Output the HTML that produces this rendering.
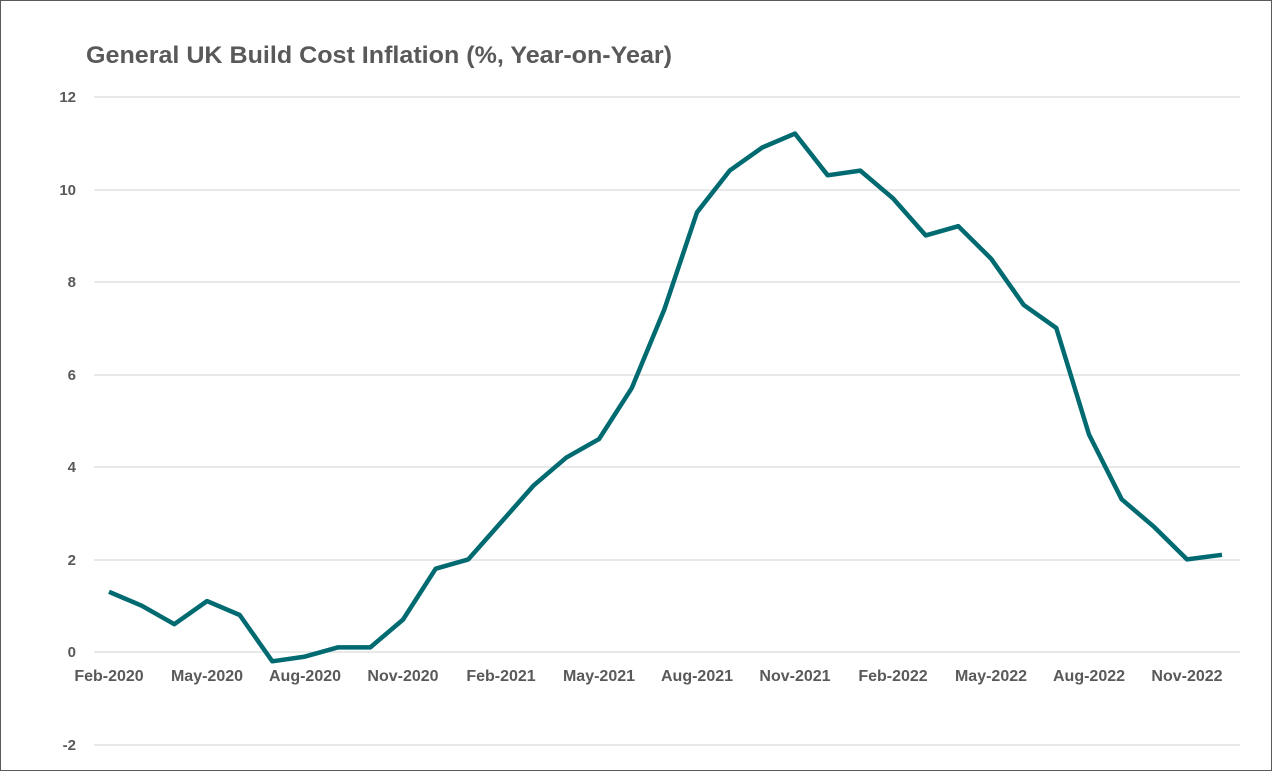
<!DOCTYPE html>
<html><head><meta charset="utf-8"><style>
html,body{margin:0;padding:0;background:#fff}
svg{display:block}
text{font-family:"Liberation Sans",sans-serif;font-weight:bold;fill:#595959}
</style></head><body>
<svg width="1272" height="771" viewBox="0 0 1272 771">
<rect x="0.5" y="0.5" width="1271" height="770" fill="#fff" stroke="#595959" stroke-width="1"/>
<text x="86" y="63" font-size="24" textLength="586" lengthAdjust="spacingAndGlyphs">General UK Build Cost Inflation (%, Year-on-Year)</text>
<g stroke="#d9d9d9" stroke-width="1.3">
<line x1="94" x2="1240" y1="97" y2="97"/>
<line x1="94" x2="1240" y1="190" y2="190"/>
<line x1="94" x2="1240" y1="282" y2="282"/>
<line x1="94" x2="1240" y1="375" y2="375"/>
<line x1="94" x2="1240" y1="467" y2="467"/>
<line x1="94" x2="1240" y1="560" y2="560"/>
<line x1="94" x2="1240" y1="652" y2="652"/>
<line x1="94" x2="1240" y1="745" y2="745"/>
</g>
<g font-size="15" text-anchor="end">
<text x="76" y="102">12</text>
<text x="76" y="195">10</text>
<text x="76" y="287">8</text>
<text x="76" y="380">6</text>
<text x="76" y="472">4</text>
<text x="76" y="565">2</text>
<text x="76" y="657">0</text>
<text x="76" y="750">-2</text>
</g>
<g font-size="16" text-anchor="middle">
<text x="109" y="681">Feb-2020</text>
<text x="207" y="681">May-2020</text>
<text x="305" y="681">Aug-2020</text>
<text x="403" y="681">Nov-2020</text>
<text x="501" y="681">Feb-2021</text>
<text x="599" y="681">May-2021</text>
<text x="697" y="681">Aug-2021</text>
<text x="795" y="681">Nov-2021</text>
<text x="893" y="681">Feb-2022</text>
<text x="991" y="681">May-2022</text>
<text x="1089" y="681">Aug-2022</text>
<text x="1187" y="681">Nov-2022</text>
</g>
<polyline fill="none" stroke="#006a71" stroke-width="4.5" stroke-linejoin="round" points="
109,591.8 141.7,605.7 174.3,624.2 207,601.1 239.7,615 272.3,661.3 305,656.6 337.7,647.4 370.3,647.4 403,619.6 435.7,568.7 468.3,559.4 501,522.4 533.7,485.4 566.3,457.6 599,439.1 631.7,388.2 664.3,309.5 697,212.3 729.7,170.6 762.3,147.5 795,133.6 827.7,175.3 860.3,170.6 893,198.4 925.7,235.4 958.3,226.2 991,258.6 1023.7,304.9 1056.3,328 1089,434.5 1121.7,499.3 1154.3,527.1 1187,559.4 1222,554.8"/>
</svg>
</body></html>
